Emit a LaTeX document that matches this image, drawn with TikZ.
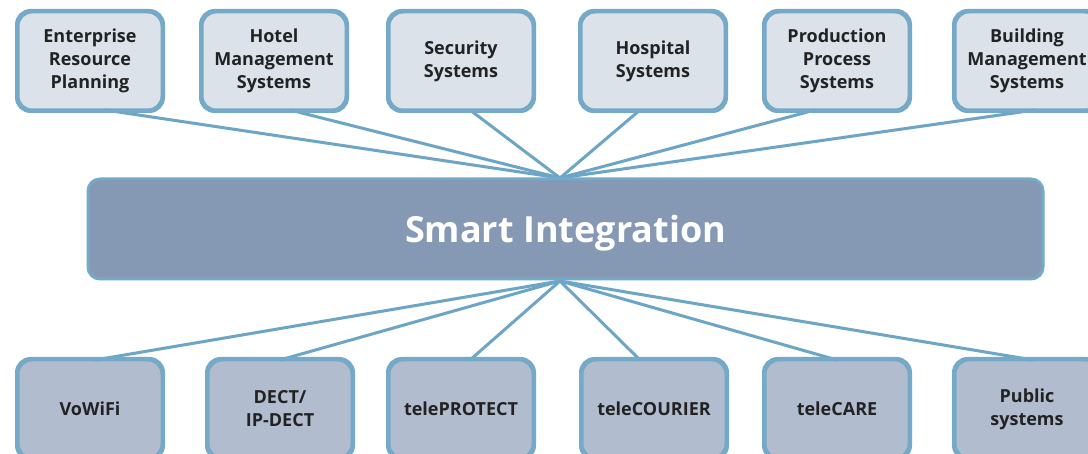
\documentclass[tikz,border=0pt]{standalone}
\usepackage{fontspec}
\setmainfont{Open Sans}
\begin{document}
\begin{tikzpicture}[x=1pt,y=-1pt,
  topbox/.style={draw=boxline,line width=3pt,fill=topfill,rounded corners=14pt,
    minimum width=144pt,minimum height=98pt,align=center,inner sep=0pt,
    font=\bfseries\fontsize{18}{23}\selectfont,text=txt},
  botbox/.style={topbox,fill=botfill},
  boxedge/.style={draw=boxline,line width=3pt,rounded corners=14pt},
  conn/.style={draw=linec,line width=3pt}]
\definecolor{boxline}{HTML}{74A9C8}
\definecolor{linec}{HTML}{6CA5C6}
\definecolor{topfill}{HTML}{DCE2EA}
\definecolor{botfill}{HTML}{B1BCCF}
\definecolor{barfill}{HTML}{8598B4}
\definecolor{txt}{HTML}{222222}
\useasboundingbox (0,0) rectangle (1088,454);
\clip (0,0) rectangle (1088,454);
\fill[white] (0,0) rectangle (1088,454);
% bar anchors
\coordinate (ct) at (560,178);
\coordinate (cb) at (560,281);
% top boxes
\node[topbox] (t1) at (90,61) {Enterprise\\Resource\\Planning};
\node[topbox] (t2) at (274,61) {Hotel\\Management\\Systems};
\node[topbox] (t3) at (461,61) {Security\\Systems};
\node[topbox] (t4) at (653,61) {Hospital\\Systems};
\node[topbox] (t5) at (837,61) {Production\\Process\\Systems};
\node[topbox] (t6) at (1027,61) {Building\\Management\\Systems};
% bottom boxes
\node[botbox] (b1) at (90,409) {VoWiFi};
\node[botbox] (b2) at (280,409) {DECT/\\IP-DECT};
\node[botbox] (b3) at (461,409) {telePROTECT};
\node[botbox] (b4) at (654,409) {teleCOURIER};
\node[botbox] (b5) at (837,409) {teleCARE};
\node[botbox] (b6) at (1027,409) {Public\\systems};
% connector ends
\coordinate (t1e) at (105,110);
\coordinate (t2e) at (290,110);
\coordinate (t3e) at (470,110);
\coordinate (t4e) at (640,110);
\coordinate (t5e) at (815,110);
\coordinate (t6e) at (1035,110);
\coordinate (b1e) at (95,360);
\coordinate (b2e) at (280,360);
\coordinate (b3e) at (470,360);
\coordinate (b4e) at (640,360);
\coordinate (b5e) at (837,360);
\coordinate (b6e) at (1033,360);
\foreach \n in {t1,t2,t3,t4,t5,t6} \draw[conn] (\n e) -- (ct);
\foreach \n in {b1,b2,b3,b4,b5,b6} \draw[conn] (\n e) -- (cb);
% redraw box edges over line ends
\foreach \n in {t1,t2,t3,t4,t5,t6,b1,b2,b3,b4,b5,b6}
  \draw[boxedge] (\n.north west) rectangle (\n.south east);
% bar
\node[draw=boxline,line width=3pt,fill=barfill,rounded corners=12pt,
  minimum width=955pt,minimum height=100pt,inner sep=0pt,
  text=white,font=\bfseries\fontsize{36}{40}\selectfont] (bar) at (565.5,229) {\raisebox{-14pt}[0pt][0pt]{Smart Integration}};
\end{tikzpicture}
\end{document}
